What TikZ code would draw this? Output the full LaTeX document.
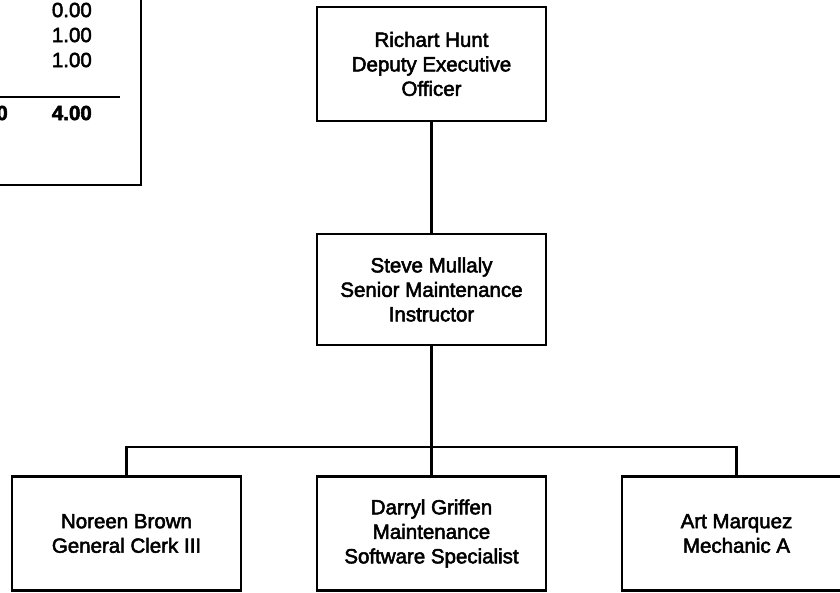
\documentclass[tikz,border=0pt]{standalone}
\usepackage{fontspec}
\setmainfont{Liberation Sans}[FakeBold=2.5,BoldFeatures={FakeBold=2.5}]
\begin{document}
\begin{tikzpicture}[x=1pt,y=-1pt,
  every node/.style={font=\fontsize{20.5}{24.5}\selectfont},
  person/.style={draw,line width=2.2pt,minimum width=229pt,align=center,inner sep=0pt},
  num/.style={anchor=east,inner sep=0pt},
  conn/.style={line width=2.4pt}]
\clip (0,0) rectangle (840,592);
% partial table box at top left
\draw[conn] (-10,185) -- (141,185) -- (141,-10);
\draw[line width=2pt] (0,97) -- (120,97);
\node[num] (n1) at (92,10) {0.00};
\node[num] (n2) at (92,35) {1.00};
\node[num] (n3) at (92,60) {1.00};
\node[num,font=\fontsize{20.5}{24.5}\selectfont\bfseries] (n4) at (92,113) {4.00};
\node[num,font=\fontsize{20.5}{24.5}\selectfont\bfseries] (n5) at (8,113) {0};
% org chart
\node[person,minimum height=114pt] (rh) at (431.5,64) {Richart Hunt\\Deputy Executive\\Officer};
\node[person,minimum height=111pt] (sm) at (431.5,289.5) {Steve Mullaly\\Senior Maintenance\\Instructor};
\node[person,minimum height=114pt] (nb) at (126.5,533.5) {Noreen Brown\\General Clerk III};
\node[person,minimum height=114pt] (dg) at (431.5,533.5) {Darryl Griffen\\Maintenance\\Software Specialist};
\node[person,minimum height=114pt] (am) at (736.5,533.5) {Art Marquez\\Mechanic A};
\coordinate (bar) at (431.5,447);
\draw[conn] (rh.south) -- (sm.north);
\draw[conn] (sm.south) -- (dg.north);
\draw[conn] (nb.north) |- (bar) -| (am.north);
\end{tikzpicture}
\end{document}
